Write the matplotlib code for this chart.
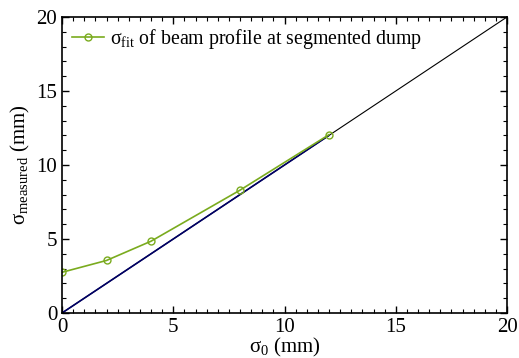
import matplotlib
matplotlib.use("Agg")
import matplotlib.pyplot as plt
from matplotlib.ticker import MultipleLocator

plt.rcParams['font.family'] = ['Liberation Serif', 'DejaVu Serif']
plt.rcParams['mathtext.fontset'] = 'custom'
plt.rcParams['mathtext.rm'] = 'Liberation Serif'
plt.rcParams['mathtext.it'] = 'Liberation Serif'

sigma0 = [0, 2, 4, 8, 12]
sigma_fit = [2.75, 3.55, 4.85, 8.3, 12.05]
ref_line = [0, 20]
ideal_short = [0, 12]

fig = plt.figure(figsize=(5.19, 3.58), dpi=100)
ax = fig.add_axes([62/519, 1 - 313/358, (507-62)/519, (313-17)/358])

ax.plot(ref_line, ref_line, color='black', lw=0.8)
ax.plot(ideal_short, ideal_short, color='#000066', lw=1.2)
ax.plot(sigma0, sigma_fit, color='#7aab1e', lw=1.2, marker='o', ms=5,
        mfc='none', mec='#7aab1e', mew=1.0,
        label=r'$\mathrm{\sigma}_{\mathrm{fit}}$ of beam profile at segmented dump')

ax.set_xlim(0, 20)
ax.set_ylim(0, 20)
ax.xaxis.set_major_locator(MultipleLocator(5))
ax.xaxis.set_minor_locator(MultipleLocator(0.5))
ax.yaxis.set_major_locator(MultipleLocator(5))
ax.yaxis.set_minor_locator(MultipleLocator(1))
ax.tick_params(which='both', direction='in', top=True, right=True, labelsize=15)
ax.tick_params(which='major', length=5, width=1)
ax.tick_params(which='minor', length=3, width=0.8)
for s in ax.spines.values():
    s.set_linewidth(1.2)

ax.set_xlabel(r'$\mathrm{\sigma}_0$ (mm)', fontsize=15, labelpad=-1)
ax.set_ylabel(r'$\mathrm{\sigma}_{\mathrm{measured}}$ (mm)', fontsize=15, labelpad=3)

ax.legend(loc='upper left', frameon=False, fontsize=14.3, handlelength=1.6,
          borderaxespad=0.2, borderpad=0.3, handletextpad=0.3)

fig.savefig('out.png', dpi=100)
